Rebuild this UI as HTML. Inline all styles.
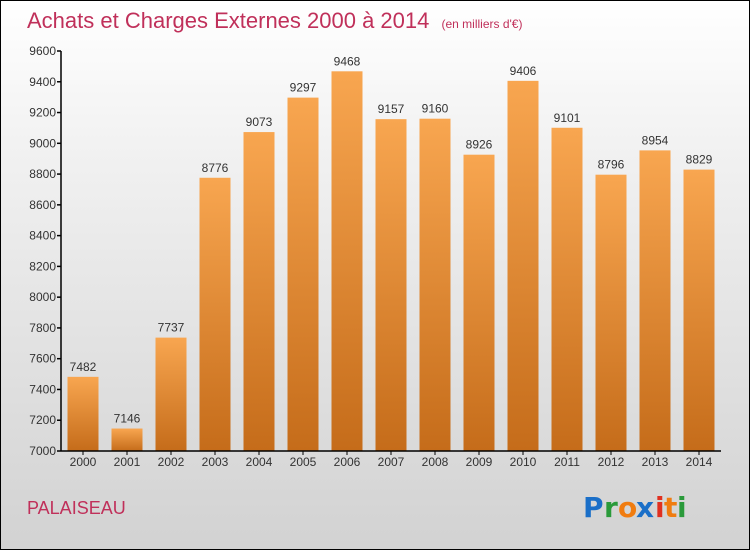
<!DOCTYPE html>
<html><head><meta charset="utf-8"><style>
body{margin:0;}
#wrap{position:relative;width:750px;height:550px;box-sizing:border-box;border:1px solid #000;background:linear-gradient(#ffffff 0%,#f0f0f0 30%,#d2d2d2 100%);font-family:"Liberation Sans",sans-serif;overflow:hidden;}
</style></head><body>
<div id="wrap">
<svg id="chart" width="750" height="550" style="position:absolute;left:-1px;top:-1px">
<defs><linearGradient id="bg" x1="0" y1="0" x2="0" y2="1"><stop offset="0" stop-color="#f8a650"/><stop offset="1" stop-color="#c56c1a"/></linearGradient></defs>
<text x="27" y="28" font-size="22" fill="#c0305a">Achats et Charges Externes 2000 à 2014 <tspan font-size="12" dx="6">(en milliers d'€)</tspan></text>
<text x="27" y="514" font-size="18" fill="#c0305a">PALAISEAU</text>
<g font-size="28" font-family="DejaVu Sans, sans-serif" font-weight="bold">
<text x="583" y="517" fill="#1a6fc8">P</text><text x="604" y="517" fill="#2a9a3a">r</text><text x="618" y="517" fill="#f07c10">o</text><text x="636" y="517" fill="#1a6fc8">x</text><text x="655" y="517" fill="#e03020">i</text><text x="664" y="517" fill="#f07c10">t</text><text x="677" y="517" fill="#2a9a3a">i</text>
</g>
</svg>
</div>
<script>
const categories=["2000","2001","2002","2003","2004","2005","2006","2007","2008","2009","2010","2011","2012","2013","2014"];
const values=[7482,7146,7737,8776,9073,9297,9468,9157,9160,8926,9406,9101,8796,8954,8829];
const yTicks=[7000,7200,7400,7600,7800,8000,8200,8400,8600,8800,9000,9200,9400,9600];
const svg=document.getElementById('chart');const NS='http://www.w3.org/2000/svg';
const x0=61,x1=721,yTop=51,yBot=451,vMin=7000,vMax=9600;
const y=v=>yBot-(v-vMin)/(vMax-vMin)*(yBot-yTop);
const step=(x1-x0)/categories.length;
const xc=i=>x0+step*(i+0.5);
function mk(t,a){const e=document.createElementNS(NS,t);for(const k in a)e.setAttribute(k,a[k]);svg.appendChild(e);return e;}
yTicks.forEach(v=>{
 const l=mk('line',{x1:x0-4,x2:x0,y1:y(v),y2:y(v),stroke:'#000','stroke-width':1.5});
 
 
 const t=mk('text',{x:x0-5,y:y(v)+4,'font-size':12,'text-anchor':'end',fill:'#333'});t.textContent=v;
 
 
});
categories.forEach((c,i)=>{
 const v=values[i];
 const r=mk('rect',{x:xc(i)-15.5,y:y(v),width:31,height:yBot-y(v),fill:'url(#bg)'});
 
 
 const t=mk('text',{x:xc(i),y:y(v)-6,'font-size':12,'text-anchor':'middle',fill:'#333'});t.textContent=v;
 
 
 const tk=mk('line',{x1:xc(i),x2:xc(i),y1:yBot,y2:yBot+4,stroke:'#000'});
 
 
 const xl=mk('text',{x:xc(i),y:yBot+15,'font-size':12,'text-anchor':'middle',fill:'#333'});xl.textContent=c;
 
 
});
const ya=mk('line',{x1:x0,x2:x0,y1:yTop,y2:yBot,stroke:'#000','stroke-width':1.5});


const xa=mk('line',{x1:x0,x2:x1,y1:yBot,y2:yBot,stroke:'#000','stroke-width':1.5});


</script>
</body></html>
